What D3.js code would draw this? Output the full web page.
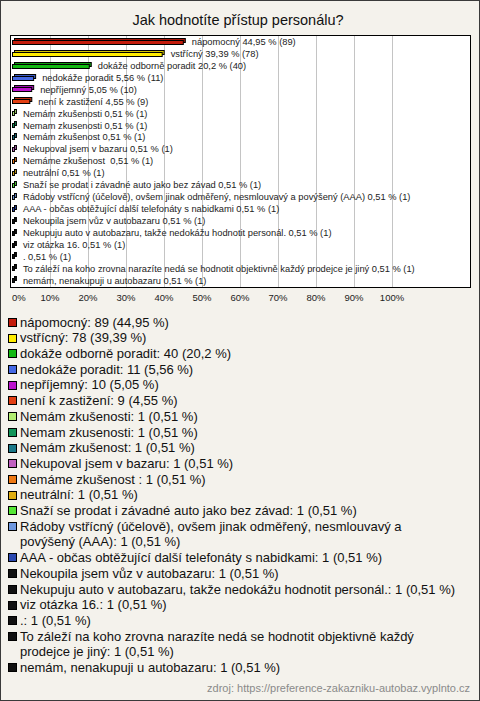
<!DOCTYPE html>
<html><head><meta charset="utf-8">
<script src="https://cdn.jsdelivr.net/npm/d3@7"></script>
<style>
html,body{margin:0;padding:0;background:#fff;}
svg{display:block;font-family:Arial,"Liberation Sans",sans-serif;}
</style></head>
<body>
<svg id="c" width="480" height="701"></svg>
<script>
const title = "Jak hodnotíte přístup personálu?";
const categories = [
  "nápomocný","vstřícný","dokáže odborně poradit","nedokáže poradit","nepříjemný","není k zastižení",
  "Nemám zkušenosti","Nemam zkusenosti","Nemám zkušenost","Nekupoval jsem v bazaru","Nemáme zkušenost ",
  "neutrální","Snaží se prodat i závadné auto jako bez závad",
  "Rádoby vstřícný (účelově), ovšem jinak odměřený, nesmlouvavý a povýšený (AAA)",
  "AAA - občas obtěžující další telefonáty s nabidkami","Nekoupila jsem vůz v autobazaru",
  "Nekupuju auto v autobazaru, takže nedokážu hodnotit personál.","viz otázka 16.",".",
  "To záleží na koho zrovna narazíte nedá se hodnotit objektivně každý prodejce je jiný",
  "nemám, nenakupuji u autobazaru"
];
const counts = [89,78,40,11,10,9,1,1,1,1,1,1,1,1,1,1,1,1,1,1,1];
const percents = [44.95,39.39,20.2,5.56,5.05,4.55,0.51,0.51,0.51,0.51,0.51,0.51,0.51,0.51,0.51,0.51,0.51,0.51,0.51,0.51,0.51];
const colors = ["#c41c0c","#ffec00","#13b913","#4468e4","#bb12cc","#e23e12","#b2ee72","#12955a","#1a7888","#c060c0","#ee7812","#e0ae12","#55e636","#6e98e0","#2a48b0","#111","#111","#111","#111","#111","#111"];
const xTicks = [0,10,20,30,40,50,60,70,80,90,100];
const source = "zdroj: https://preference-zakazniku-autobaz.vyplnto.cz";
// legend line-break hints (word that starts a new line)
const forcedBreaks = {13: "povýšený"};

const fmt = v => String(v).replace(".", ",");
const svg = d3.select("#c");
const W = 480, H = 701;

svg.append("rect").attr("x",0.5).attr("y",0.5).attr("width",W-1).attr("height",H-1)
  .attr("fill","#f4f2ec").attr("stroke","#3a3a3a");

svg.append("text").attr("x",238).attr("y",25).attr("text-anchor","middle")
  .attr("font-size",14.5).attr("fill","#111").text(title);

// plot area
const px0 = 10, px1 = 470, py0 = 35, py1 = 287;
svg.append("rect").attr("x",px0+0.5).attr("y",py0+0.5).attr("width",px1-px0).attr("height",py1-py0)
  .attr("fill","#fff");

const x = d3.scaleLinear().domain([0,100]).range([12,392]);
const y = d3.scaleBand().domain(categories.map((d,i)=>i)).range([35.8,286.3]);

// gridlines
svg.append("g").selectAll("line").data(xTicks.slice(1)).join("line")
  .attr("x1",d=>Math.round(x(d))+0.5).attr("x2",d=>Math.round(x(d))+0.5)
  .attr("y1",py0).attr("y2",py1).attr("stroke","#c4c4c4").attr("stroke-width",1);

svg.append("rect").attr("x",px0+0.5).attr("y",py0+0.5).attr("width",px1-px0).attr("height",py1-py0)
  .attr("fill","none").attr("stroke","#000");

// bars with 3D look
const bars = svg.append("g").selectAll("g").data(categories).join("g");
bars.each(function(d,i){
  const g = d3.select(this);
  const c = y(i) + y.bandwidth()/2;
  const x0 = x(0), w = Math.max(1.5, x(percents[i]) - x(0));
  const col = colors[i];
  g.append("rect").attr("x",x0+2.5).attr("y",Math.round(c-4)+0.5).attr("width",w).attr("height",4)
    .attr("fill",d3.color(col).darker(0.5)).attr("stroke","#000").attr("stroke-width",1);
  g.append("rect").attr("x",x0+0.5).attr("y",Math.round(c-2)+0.5).attr("width",w).attr("height",4)
    .attr("fill",col).attr("stroke","#000").attr("stroke-width",1);
  g.append("text").attr("x",x(percents[i])+9).attr("y",c).attr("dy","0.35em")
    .attr("font-size",9.3).attr("fill","#222").style("white-space","pre")
    .text(`${d} ${fmt(percents[i])} % (${counts[i]})`);
});

// x-axis labels
svg.append("g").selectAll("text").data(xTicks).join("text")
  .attr("x",d=> d===0 ? 12 : x(d)).attr("y",301)
  .attr("text-anchor",d=> d===0 ? "start" : "middle")
  .attr("font-size",9.5).attr("fill","#222").text(d=>d+"%");

// legend
const lg = svg.append("g");
let ly = 322; const pitch = 15.7; const maxW = 445;
categories.forEach((d,i)=>{
  const txt = `${d}: ${counts[i]} (${fmt(percents[i])} %)`;
  lg.append("rect").attr("x",8.5).attr("y",Math.round(ly-4)+0.5).attr("width",8).attr("height",8)
    .attr("fill",colors[i]).attr("stroke","#000");
  const t = lg.append("text").attr("x",20).attr("y",ly).attr("dy","0.36em")
    .attr("font-size",13).attr("fill","#111");
  const words = txt.split(" ");
  let line = [];
  let ts = t.append("tspan").attr("x",20);
  let lines = 1;
  words.forEach(wd=>{
    if (forcedBreaks[i] === wd && line.length) {
      line=[wd];
      ts = t.append("tspan").attr("x",20).attr("dy",pitch).text(wd);
      lines++;
      return;
    }
    line.push(wd);
    ts.text(line.join(" "));
    if (ts.node().getComputedTextLength() > maxW && line.length>1){
      line.pop(); ts.text(line.join(" "));
      line=[wd];
      ts = t.append("tspan").attr("x",20).attr("dy",pitch).text(wd);
      lines++;
    }
  });
  ly += pitch*lines;
});

svg.append("text").attr("x",470).attr("y",692).attr("text-anchor","end")
  .attr("font-size",11).attr("fill","#8a8a8a").text(source);
</script>
</body></html>
